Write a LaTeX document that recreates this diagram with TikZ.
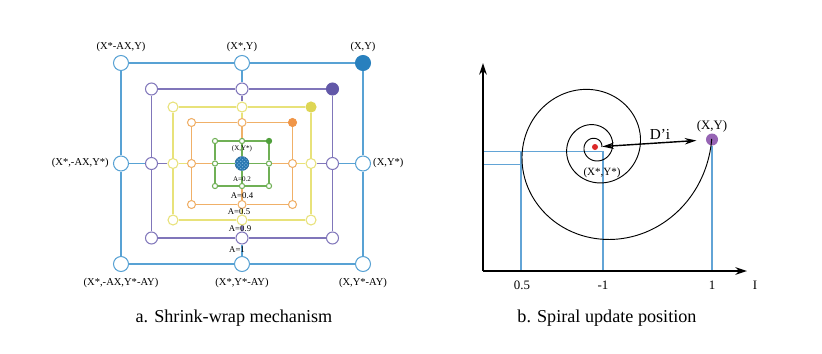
\documentclass[tikz,border=0pt]{standalone}
\usepackage{fontspec}
\setmainfont{Liberation Serif}
\usetikzlibrary{arrows.meta,patterns}
\definecolor{cB}{RGB}{88,162,212}
\definecolor{cBf}{RGB}{40,128,190}
\definecolor{cP}{RGB}{128,118,186}
\definecolor{cPf}{RGB}{98,88,168}
\definecolor{cY}{RGB}{232,226,122}
\definecolor{cYf}{RGB}{222,214,84}
\definecolor{cO}{RGB}{240,176,104}
\definecolor{cOf}{RGB}{240,150,72}
\definecolor{cG}{RGB}{112,176,86}
\definecolor{cGf}{RGB}{80,160,60}
\definecolor{cL}{RGB}{98,164,214}
\definecolor{cXY}{RGB}{150,100,180}
\definecolor{cRed}{RGB}{220,40,40}
\definecolor{cCtr}{RGB}{42,120,178}
\tikzset{
  ringnode/.style={circle, inner sep=0pt, line width=0.9pt},
  lbl/.style={inner sep=0pt, font=\fontsize{9}{10}\selectfont},
  albl/.style={inner sep=0pt, font=\fontsize{7.5}{8}\selectfont},
  rlbl/.style={inner sep=0pt, font=\fontsize{11}{12}\selectfont},
  caption/.style={inner sep=0pt, font=\fontsize{15.5}{17}\selectfont},
  axis/.style={line width=1.3pt, -{Stealth[length=10pt,width=6.5pt]}},
  guide/.style={cL, line width=1.2pt}
}
\begin{document}
\begin{tikzpicture}[x=0.03cm,y=-0.03cm]
\useasboundingbox[fill=white] (0,0) rectangle (822,353);

% ---------- a. shrink-wrap ----------
\foreach \n/\hw/\hh/\r/\c/\f in {o/121/100.5/7.5/cB/cBf, p/90.5/74.5/6/cP/cPf, y/69/56.5/5/cY/cYf, r/50.5/41/4/cO/cOf, g/27/22.5/2.6/cG/cGf} {
  \foreach \a/\dx/\dy in {tl/-1/-1, tm/0/-1, mr/1/0, br/1/1, bm/0/1, bl/-1/1, ml/-1/0} {
    \node[ringnode, draw=\c, fill=white, minimum size=\r*0.06cm] (\n\a) at ({242+\dx*\hw},{163.5+\dy*\hh}) {};
  }
  \node[ringnode, draw=\f, fill=\f, minimum size=\r*0.06cm] (\n tr) at ({242+\hw},{163.5-\hh}) {};
  \draw[\c, line width=0.9pt] (\n tl) -- (\n tm) -- (\n tr) -- (\n mr) -- (\n br) -- (\n bm) -- (\n bl) -- (\n ml) -- (\n tl);
}
\node[circle, inner sep=0pt, minimum size=14*0.03cm, fill=cCtr, draw=cCtr!80!black, line width=0.4pt,
      postaction={pattern=crosshatch dots, pattern color=cB!70}] (ctr) at (242,163.5) {};

\foreach \u/\v/\c in {o/p/cB, p/y/cP, y/r/cY, r/g/cO} {
  \draw[\c, line width=0.9pt] (\u tm) -- (\v tm);
  \draw[\c, line width=0.9pt] (\u bm) -- (\v bm);
  \draw[\c, line width=0.9pt] (\u ml) -- (\v ml);
  \draw[\c, line width=0.9pt] (\u mr) -- (\v mr);
}
\foreach \a in {tm,bm,ml,mr} { \draw[cG, line width=0.9pt] (g\a) -- (ctr); }

\node[lbl] (l1) at (121,47) {(X*-AX,Y)};
\node[lbl] (l2) at (242,47) {(X*,Y)};
\node[lbl] (l3) at (363,47) {(X,Y)};
\node[lbl, anchor=east] (l4) at (109,163) {(X*,-AX,Y*)};
\node[lbl, anchor=west] (l5) at (373,163) {(X,Y*)};
\node[lbl] (l6) at (121,283) {(X*,-AX,Y*-AY)};
\node[lbl] (l7) at (242,283) {(X*,Y*-AY)};
\node[lbl] (l8) at (363,283) {(X,Y*-AY)};

\node[inner sep=0pt, font=\fontsize{6}{7}\selectfont] (a0) at (242,149) {(X,Y*)};
\node[inner sep=0pt, font=\fontsize{6}{7}\selectfont] (a1) at (242,179) {A=0.2};
\node[albl] (a2) at (242,196) {A=0.4};
\node[albl] (a3) at (239,212) {A=0.5};
\node[albl] (a4) at (240,229) {A=0.9};
\node[albl] (a5) at (237,250) {A=1};

\node[caption] (capa) at (234,318) {a. Shrink-wrap mechanism};

% ---------- b. spiral ----------
\coordinate (O) at (483,271);
\coordinate (yend) at (483,63);
\coordinate (xend) at (747,271);
\coordinate (h1a) at (483,151.5);
\coordinate (h1b) at (603,151.5);
\coordinate (h2a) at (483,164.5);
\coordinate (h2b) at (521,164.5);
\coordinate (v1t) at (521,151.5);
\coordinate (v1b) at (521,271);
\coordinate (v2b) at (603,271);
\coordinate (v3b) at (712,271);

\node[circle, inner sep=0pt, minimum size=12*0.03cm, fill=cXY] (xy) at (712,139.5) {};
\node[circle, inner sep=0pt, minimum size=6*0.03cm, fill=cRed] (best) at (595,147) {};

\draw[guide] (h1a) -- (h1b) -- (v2b);
\draw[guide] (h2a) -- (h2b);
\draw[guide] (v1t) -- (v1b);
\draw[guide] (xy) -- (v3b);

\draw[line width=0.8pt] plot[domain=-4:1080, samples=320, smooth]
  ({595+117*exp(-0.00262*(\x+4))*cos(\x)}, {147+117*exp(-0.00262*(\x+4))*sin(\x)});

\draw[line width=1.2pt, {Stealth[length=10pt,width=5.5pt]}-{Stealth[length=10pt,width=5.5pt]},
      shorten <=0.12cm, shorten >=0.28cm] (best) -- (xy);

\draw[axis] (O) -- (yend);
\draw[axis] (O) -- (xend);

\node[rlbl] (lxy) at (712,126) {(X,Y)};
\node[inner sep=0pt, font=\fontsize{13}{14}\selectfont] (ldi) at (660,134) {D'i};
\node[inner sep=0pt, font=\fontsize{9.4}{10}\selectfont] (lbest) at (602,173) {(X*,Y*)};
\node[rlbl] (t1) at (522,285) {0.5};
\node[rlbl] (t2) at (603,285) {-1};
\node[rlbl] (t3) at (712,285) {1};
\node[rlbl] (t4) at (755,285) {I};

\node[caption] (capb) at (607,318) {b. Spiral update position};
\end{tikzpicture}
\end{document}
